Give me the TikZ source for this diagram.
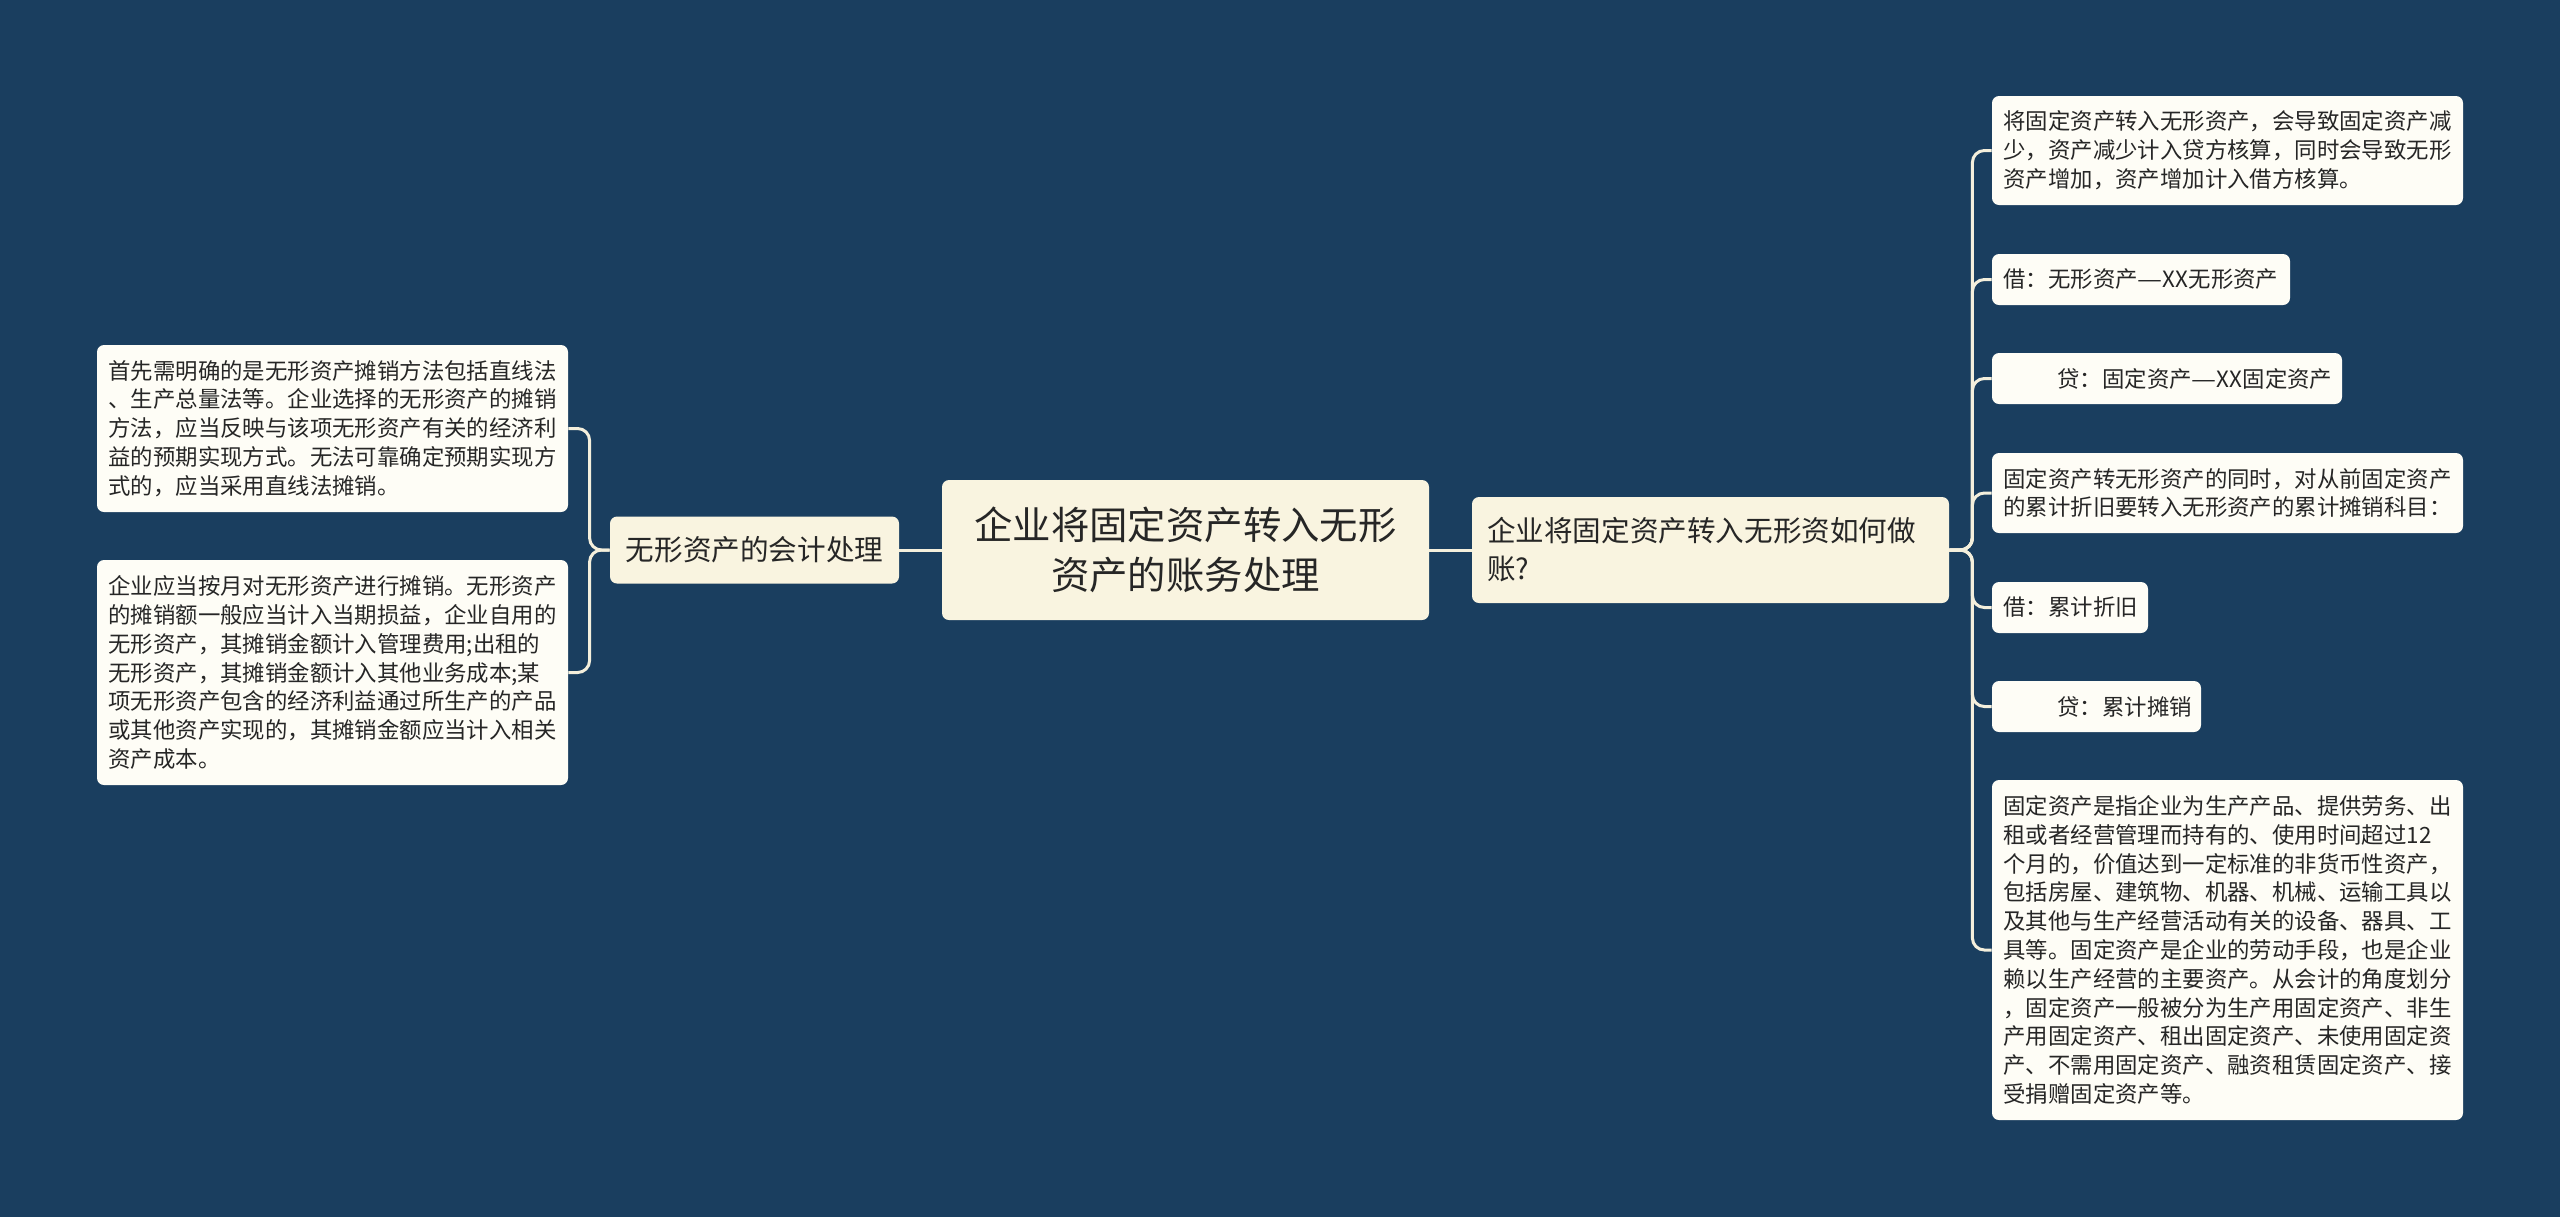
\documentclass[tikz,border=0pt]{standalone}
\usepackage{fontspec}
\usepackage{graphicx}
\setmainfont{Noto Sans CJK SC}
\definecolor{bgc}{HTML}{1A3E5F}
\definecolor{mainc}{HTML}{F9F4E0}
\definecolor{leafc}{HTML}{FEFDF6}
\definecolor{linec}{HTML}{F4EFDC}
\definecolor{txtc}{HTML}{262626}
\newcommand{\longdash}{\scalebox{1.25}[1]{—}}
\begin{document}
\begin{tikzpicture}[x=0.5pt,y=-0.5pt,
  box/.style={rounded corners=3.5pt, inner ysep=0pt, anchor=center, text=txtc},
  rootbox/.style={box, fill=mainc, align=center, inner xsep=0pt,
    font=\fontsize{19.2pt}{25pt}\selectfont},
  midbox/.style={box, fill=mainc, align=left,
    font=\fontsize{14.3pt}{19pt}\selectfont},
  leafbox/.style={box, fill=leafc, align=left, inner xsep=5.75pt,
    font=\fontsize{11.2pt}{14.4pt}\selectfont},
  conn/.style={draw=linec, line width=1.5pt, rounded corners=6pt}]
\useasboundingbox (0,0) rectangle (2560,1217);
\fill[bgc] (0,0) rectangle (2560,1217);

% root
\node[rootbox, minimum width=243.5pt, minimum height=70pt] (root) at (1185.5,550)
  {企业将固定资产转入无形\\资产的账务处理};

% left branch
\node[midbox, minimum width=144.5pt, minimum height=33.5pt, align=center, inner xsep=0pt] (ln) at (754.5,550)
  {无形资产的会计处理};
\node[leafbox, text width=224pt, minimum height=83.5pt] (l1) at (332.5,428.5)
  {首先需明确的是无形资产摊销方法包括直线法\\
   、生产总量法等。企业选择的无形资产的摊销\\
   方法，应当反映与该项无形资产有关的经济利\\
   益的预期实现方式。无法可靠确定预期实现方\\
   式的，应当采用直线法摊销。};
\node[leafbox, text width=224pt, minimum height=112.5pt] (l2) at (332.5,672.5)
  {企业应当按月对无形资产进行摊销。无形资产\\
   的摊销额一般应当计入当期损益，企业自用的\\
   无形资产，其摊销金额计入管理费用;出租的\\
   无形资产，其摊销金额计入其他业务成本;某\\
   项无形资产包含的经济利益通过所生产的产品\\
   或其他资产实现的，其摊销金额应当计入相关\\
   资产成本。};

% right branch
\node[midbox, text width=223.5pt, inner xsep=7.5pt, minimum height=53pt] (rm) at (1710.5,550)
  {企业将固定资产转入无形资如何做\\账?};
\node[leafbox, text width=224pt, minimum height=54.5pt] (r1) at (2227.5,150.5)
  {将固定资产转入无形资产，会导致固定资产减\\
   少，资产减少计入贷方核算，同时会导致无形\\
   资产增加，资产增加计入借方核算。};
\node[leafbox, text width=137.5pt, minimum height=25.5pt] (r2) at (2141,279.5)
  {借：无形资产\longdash XX无形资产};
\node[leafbox, text width=163.5pt, minimum height=25.5pt] (r3) at (2167,378.5)
  {\hspace*{27pt}贷：固定资产\longdash XX固定资产};
\node[leafbox, text width=224pt, minimum height=40pt] (r4) at (2227.5,493)
  {固定资产转无形资产的同时，对从前固定资产\\
   的累计折旧要转入无形资产的累计摊销科目：};
\node[leafbox, text width=66.5pt, minimum height=25.5pt] (r5) at (2070,607.5)
  {借：累计折旧};
\node[leafbox, text width=93pt, minimum height=25.5pt] (r6) at (2096.5,706.5)
  {\hspace*{27pt}贷：累计摊销};
\node[leafbox, text width=224pt, minimum height=170pt] (r7) at (2227.5,950)
  {固定资产是指企业为生产产品、提供劳务、出\\
   租或者经营管理而持有的、使用时间超过12\\
   个月的，价值达到一定标准的非货币性资产，\\
   包括房屋、建筑物、机器、机械、运输工具以\\
   及其他与生产经营活动有关的设备、器具、工\\
   具等。固定资产是企业的劳动手段，也是企业\\
   赖以生产经营的主要资产。从会计的角度划分\\
   ，固定资产一般被分为生产用固定资产、非生\\
   产用固定资产、租出固定资产、未使用固定资\\
   产、不需用固定资产、融资租赁固定资产、接\\
   受捐赠固定资产等。};

% connectors
\draw[conn] (root.west) -- (ln.east);
\draw[conn] (root.east) -- (rm.west);
\foreach \t in {l1,l2}
  \draw[conn] (ln.west) -- ++(-10pt,0) |- (\t.east);
\foreach \t in {r1,r2,r3,r4,r5,r6,r7}
  \draw[conn] (rm.east) -- ++(11.5pt,0) |- (\t.west);
\end{tikzpicture}
\end{document}
